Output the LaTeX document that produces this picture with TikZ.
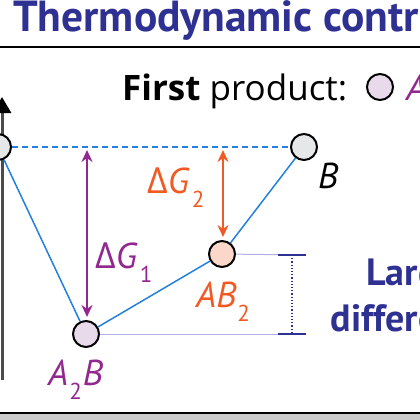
\documentclass[tikz,border=0pt]{standalone}
\usepackage{fontspec}
\setmainfont{PT Sans}
\newfontfamily\deltafont{Open Sans}
\newfontfamily\legendfont{Open Sans}
\usetikzlibrary{arrows.meta,positioning,calc}
\definecolor{titlenavy}{RGB}{46,49,146}
\definecolor{pathblue}{RGB}{35,128,222}
\definecolor{prodpurple}{RGB}{146,39,143}
\definecolor{prodorange}{RGB}{241,90,36}
\definecolor{fillpurple}{RGB}{232,218,235}
\definecolor{fillorange}{RGB}{250,215,200}
\definecolor{fillgrey}{RGB}{230,231,232}
\definecolor{guidelav}{RGB}{175,175,230}
\newcommand{\lowsub}[1]{\kern1pt\raisebox{-14pt}{\fontsize{23}{23}\selectfont\upshape #1}\kern1pt}
\newcommand{\labelsize}{\fontsize{36}{36}\selectfont}
\tikzset{
  species/.style={circle, draw=black, line width=2pt, minimum size=26pt, inner sep=0pt},
  path line/.style={pathblue, line width=1.5pt},
  guide/.style={guidelav, line width=1pt},
  bar tick/.style={titlenavy, line width=1.8pt},
  gap arrow/.style={line width=2pt, {Stealth[length=12pt,width=11pt]}-{Stealth[length=12pt,width=11pt]}},
  mathlabel/.style={anchor=base west, inner sep=0pt, font=\labelsize\itshape}
}
\begin{document}
\begin{tikzpicture}[>=Stealth, x=1pt, y=-1pt]
\useasboundingbox (0,0) rectangle (420,420);
\clip (0,0) rectangle (420,420);
% header
\node[anchor=base west, inner sep=0pt, font=\fontsize{43.5}{43.5}\selectfont\bfseries, text=titlenavy] (title) at (13,32) {Thermodynamic control};
\draw[line width=2pt] (0,47) -- (420,47);
\node[anchor=base west, inner sep=0pt, font=\legendfont\fontsize{35}{35}\selectfont] (legend) at (122,100) {\textbf{First} product:};
\node[species, fill=fillpurple] (legendmark) at (380,87) {};
\node[mathlabel, text=prodpurple] (legendname) at (406,100) {A\lowsub{2}B};
% energy axis
\coordinate (axisbot) at (2,380);
\coordinate (axistop) at (2,97);
\draw[black!70, line width=3pt, -{Triangle[length=16pt,width=18pt,color=black]}] (axisbot) -- (axistop);
% species
\node[species, fill=fillgrey] (start) at (-2,147) {};
\node[species, fill=fillgrey] (bb) at (304,147) {};
\node[species, fill=fillpurple] (atwob) at (86,334) {};
\node[species, fill=fillorange] (abtwo) at (222,254) {};
\draw[path line, dash pattern=on 6pt off 4pt] (start) -- (bb);
\draw[path line] (start) -- (atwob) -- (abtwo) -- (bb);
\node[mathlabel] (blabel) at (318,188) {B};
\node[mathlabel, text=prodpurple] (atwoblabel) at (48,385) {A\lowsub{2}B};
\node[mathlabel, text=prodorange] (abtwolabel) at (196,307) {AB\lowsub{2}};
% free energy gaps
\coordinate (gonetop) at (87,150);
\coordinate (gtwotop) at (223,150);
\draw[gap arrow, prodpurple, shorten >=3pt] (gonetop) -- (gonetop |- atwob.north);
\draw[gap arrow, prodorange, shorten >=3pt] (gtwotop) -- (gtwotop |- abtwo.north);
\node[mathlabel, text=prodpurple] (gonelabel) at (95,268) {{\deltafont\upshape Δ}G\kern2pt\lowsub{1}};
\node[mathlabel, text=prodorange] (gtwolabel) at (147,193) {{\deltafont\upshape Δ}G\kern2pt\lowsub{2}};
% difference bar
\coordinate (lowtick) at (278,334);
\coordinate (lowend) at (306,334);
\coordinate (hightick) at (278,255);
\coordinate (highend) at (306,255);
\draw[guide] (atwob) -- (lowend);
\draw[guide] (abtwo) -- (highend);
\draw[bar tick] (lowtick) -- (lowend);
\draw[bar tick] (hightick) -- (highend);
\draw[titlenavy, line width=1.2pt, dotted] ($(hightick)!.5!(highend)$) -- ($(lowtick)!.5!(lowend)$);
\node[anchor=base, align=center, inner sep=0pt, font=\fontsize{38}{46}\selectfont\bfseries, text=titlenavy] (difflabel) at (412,331) {Large\\difference};
% frame bottom
\draw[line width=1.5pt] (0,413) -- (420,413);
\fill[black!20] (0,414) rectangle (420,420);
\end{tikzpicture}
\end{document}
